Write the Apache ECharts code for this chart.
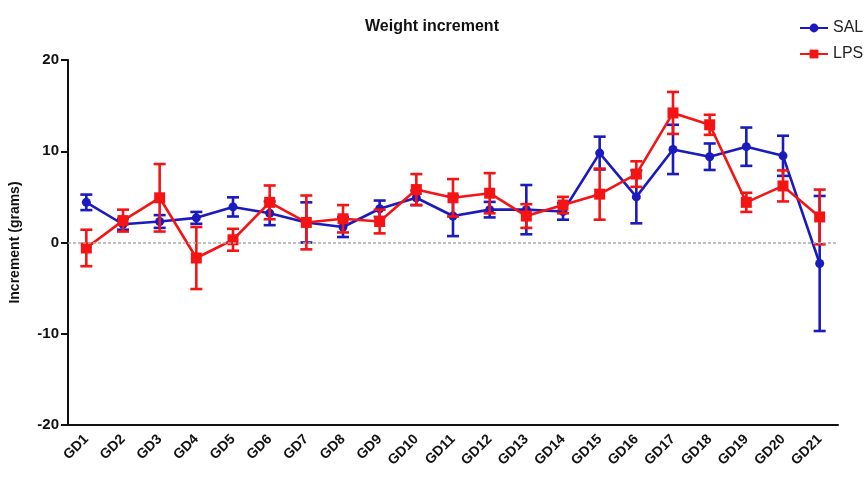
<!DOCTYPE html>
<html>
<head>
<meta charset="utf-8">
<script src="https://cdn.jsdelivr.net/npm/echarts@6/dist/echarts.min.js"></script>
<style>html,body{margin:0;padding:0;background:#fff}#c{width:864px;height:480px}</style>
</head>
<body>
<div id="c"></div>
<script>
var categories = ['GD1','GD2','GD3','GD4','GD5','GD6','GD7','GD8','GD9','GD10','GD11','GD12','GD13','GD14','GD15','GD16','GD17','GD18','GD19','GD20','GD21'];
var salMean = [4.4, 2.0, 2.3, 2.7, 3.9, 3.2, 2.2, 1.7, 3.7, 4.9, 2.9, 3.6, 3.6, 3.4, 9.8, 5.0, 10.2, 9.4, 10.5, 9.5, -2.3];
var salErr  = [0.85, 0.6, 0.7, 0.65, 1.05, 1.3, 2.2, 1.1, 0.9, 0.8, 2.2, 0.85, 2.7, 0.9, 1.8, 2.9, 2.7, 1.45, 2.1, 2.2, 7.4];
var lpsMean = [-0.6, 2.4, 4.9, -1.7, 0.3, 4.4, 2.2, 2.6, 2.3, 5.8, 4.9, 5.4, 2.9, 4.1, 5.3, 7.5, 14.2, 12.9, 4.4, 6.2, 2.8];
var lpsErr  = [2.0, 1.2, 3.7, 3.4, 1.2, 1.85, 2.95, 1.5, 1.3, 1.7, 2.05, 2.2, 1.3, 0.9, 2.8, 1.4, 2.3, 1.1, 1.05, 1.7, 3.0];
var yTicks = [-20, -10, 0, 10, 20];

var BLUE = '#1a1abf';
var RED = '#f41414';

function errData(mean, err) {
  return mean.map(function (m, i) { return [i, m - err[i], m + err[i]]; });
}
function errRender(color) {
  return function (params, api) {
    var x = api.value(0);
    var lo = api.coord([x, api.value(1)]);
    var hi = api.coord([x, api.value(2)]);
    var hw = 6;
    var st = { stroke: color, lineWidth: 2.6 };
    return {
      type: 'group',
      children: [
        { type: 'line', shape: { x1: lo[0], y1: lo[1], x2: hi[0], y2: hi[1] }, style: st },
        { type: 'line', shape: { x1: lo[0] - hw, y1: lo[1], x2: lo[0] + hw, y2: lo[1] }, style: st },
        { type: 'line', shape: { x1: hi[0] - hw, y1: hi[1], x2: hi[0] + hw, y2: hi[1] }, style: st }
      ]
    };
  };
}

var chart = echarts.init(document.getElementById('c'), null, { renderer: 'canvas' });
chart.setOption({
  animation: false,
  backgroundColor: '#fff',
  textStyle: { fontFamily: 'Liberation Sans, Arial, sans-serif' },
  title: {
    text: 'Weight increment',
    left: 'center', top: 14,
    textStyle: { fontSize: 16, fontWeight: 'bold', color: '#111' }
  },
  legend: {
    orient: 'vertical',
    left: 794, top: 15,
    itemWidth: 28, itemHeight: 11, itemGap: 10,
    textStyle: { fontSize: 16, color: '#222' },
    data: ['SAL', 'LPS']
  },
  grid: { left: 68, right: 26, top: 60, bottom: 55, containLabel: false },
  xAxis: {
    type: 'category',
    data: categories,
    axisLine: { onZero: false, lineStyle: { color: '#111', width: 2 } },
    axisTick: { alignWithLabel: true, length: 8, lineStyle: { color: '#111', width: 2 } },
    axisLabel: { rotate: 45, fontSize: 14, fontWeight: 'bold', color: '#111', margin: 12 },
    splitLine: { show: false }
  },
  yAxis: {
    type: 'value',
    min: yTicks[0], max: yTicks[yTicks.length - 1], interval: 10,
    name: 'Increment (grams)',
    nameLocation: 'middle', nameRotate: 90, nameGap: 46,
    nameTextStyle: { fontSize: 14, fontWeight: 'bold', color: '#111' },
    axisLine: { show: true, lineStyle: { color: '#111', width: 2 } },
    axisTick: { show: true, length: 7, lineStyle: { color: '#111', width: 2 } },
    axisLabel: { fontSize: 15, fontWeight: 'bold', color: '#111', margin: 9 },
    splitLine: { show: false }
  },
  series: [
    {
      name: 'SAL', type: 'line', data: salMean,
      symbol: 'circle', symbolSize: 9,
      lineStyle: { color: BLUE, width: 2.6 },
      itemStyle: { color: BLUE },
      z: 3,
      markLine: {
        silent: true, symbol: 'none',
        label: { show: false },
        lineStyle: { color: '#aaaaaa', type: [3, 2], width: 1.5 },
        data: [{ yAxis: 0 }]
      }
    },
    {
      name: 'SAL-err', type: 'custom', data: errData(salMean, salErr),
      renderItem: errRender(BLUE), encode: { x: 0, y: [1, 2] }, z: 3
    },
    {
      name: 'LPS', type: 'line', data: lpsMean,
      symbol: 'rect', symbolSize: 11,
      lineStyle: { color: RED, width: 2.6 },
      itemStyle: { color: RED },
      z: 4
    },
    {
      name: 'LPS-err', type: 'custom', data: errData(lpsMean, lpsErr),
      renderItem: errRender(RED), encode: { x: 0, y: [1, 2] }, z: 4
    }
  ]
});
</script>
</body>
</html>
